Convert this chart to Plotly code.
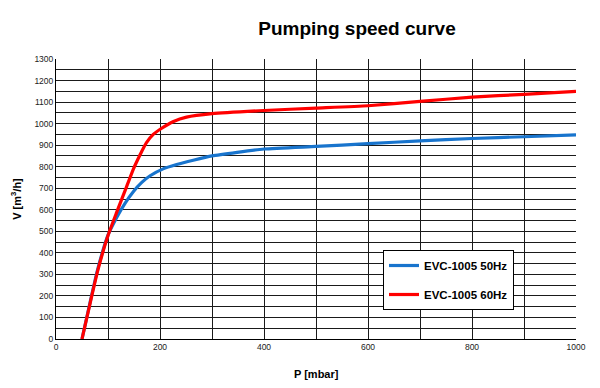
import plotly.graph_objects as go

# EVC-1005 50Hz: pressure (mbar) and pumping speed (m3/h)
p_50hz = [50, 66, 80, 100, 117, 133, 149, 165, 181, 206, 232, 264, 300, 400, 500, 600, 700, 800, 900, 1000]
speed_50hz = [0, 175, 322, 482, 565, 631, 685, 727, 758, 790, 810, 830, 850, 882, 894, 907, 920, 931, 939, 948]
# EVC-1005 60Hz
p_60hz = [50, 66, 80, 100, 117, 133, 149, 157, 165, 174, 187, 201, 226, 251, 300, 400, 500, 600, 700, 800, 900, 1000]
speed_60hz = [0, 170, 315, 480, 590, 690, 790, 832, 872, 912, 950, 975, 1010, 1030, 1046, 1061, 1072, 1083, 1103, 1123, 1136, 1150]

series_names = ["EVC-1005 50Hz", "EVC-1005 60Hz"]
series_colors = ["#1874CD", "#FF0000"]

x_ticks = [0, 200, 400, 600, 800, 1000]
y_ticks = list(range(0, 1301, 100))

fig = go.Figure()
for name, xs, ys, col in zip(series_names, [p_50hz, p_60hz], [speed_50hz, speed_60hz], series_colors):
    fig.add_trace(go.Scatter(
        x=xs, y=ys, mode="lines", name="<b>" + name + "</b>", legendgroup=name,
        line=dict(color=col, width=3.2, shape="spline", smoothing=0.5),
    ))

grid_col = "#1a1a1a"
fig.update_layout(
    width=600, height=388,
    margin=dict(l=56, r=24, t=59, b=49),
    paper_bgcolor="white", plot_bgcolor="white",
    font=dict(family="Liberation Sans, Arial, sans-serif", color="#111"),
    title=dict(text="<b>Pumping speed curve</b>", x=0.595, xref="container", xanchor="center",
               y=1 - 28 / 388, yref="container", yanchor="middle",
               font=dict(size=19, color="#000")),
    xaxis=dict(range=[0, 1000], tickvals=x_ticks, ticktext=[str(t) for t in x_ticks],
               showgrid=True, gridcolor=grid_col, gridwidth=1,
               minor=dict(dtick=100, showgrid=True, gridcolor=grid_col, gridwidth=1),
               showline=True, linecolor="#000", linewidth=1, zeroline=False,
               ticks="", tickfont=dict(size=8.5, color="#222"), automargin=False),
    yaxis=dict(range=[0, 1300], tickvals=y_ticks, ticktext=[str(t) for t in y_ticks],
               showgrid=True, gridcolor=grid_col, gridwidth=1,
               minor=dict(dtick=50, showgrid=True, gridcolor=grid_col, gridwidth=1),
               showline=True, linecolor="#000", linewidth=1, zeroline=False,
               ticks="", tickfont=dict(size=8.5, color="#222"),
               title=dict(text="<b>V [m<sup>3</sup>/h]</b>", font=dict(size=11, color="#000"), standoff=10)),
    legend=dict(x=(383 - 56) / 520, y=(339 - 250) / 280, xanchor="left", yanchor="top",
                bgcolor="white", bordercolor="#000", borderwidth=1,
                font=dict(size=11.5, color="#000", family="Liberation Sans, Arial, sans-serif"),
                traceorder="grouped", tracegroupgap=10, itemwidth=30),
    showlegend=True,
    annotations=[dict(text="<b>P [mbar]</b>", xref="paper", yref="paper", x=0.5, y=-35 / 280,
                      xanchor="center", yanchor="middle", showarrow=False,
                      font=dict(size=11, color="#000"))],
)

fig.write_html("out.html", config={"displayModeBar": False},
               post_script="document.body.style.margin='0px';")
